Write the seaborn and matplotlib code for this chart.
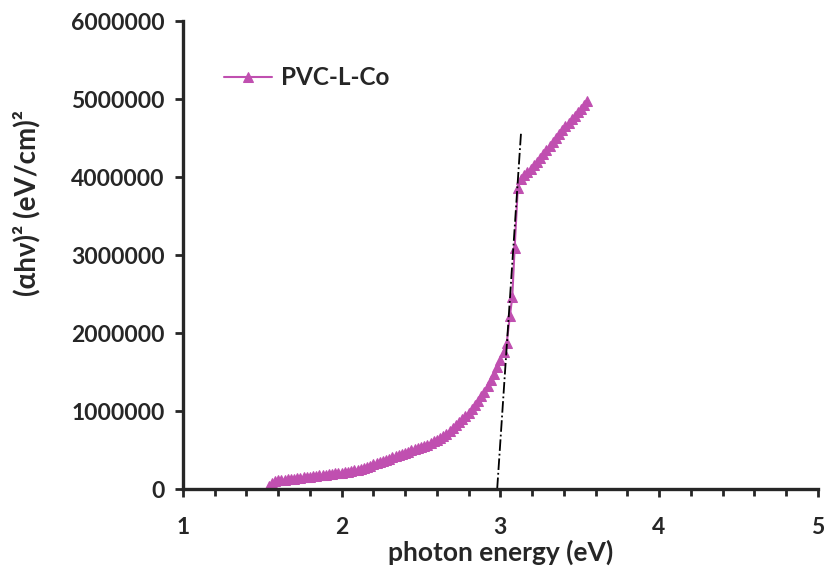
import numpy as np
import matplotlib
matplotlib.use("Agg")
import matplotlib.pyplot as plt
import seaborn as sns
from matplotlib.ticker import MultipleLocator, FuncFormatter

sns.set_style("ticks")
plt.rcParams["font.family"] = ["Lato", "DejaVu Sans"]
plt.rcParams["font.weight"] = "bold"

# photon energy (eV) and (alpha h nu)^2 values
energy = [
    1.54, 1.56, 1.58, 1.60, 1.62, 1.64, 1.66, 1.68, 1.70, 1.72, 1.74, 1.76, 1.78,
    1.80, 1.82, 1.84, 1.86, 1.88, 1.90, 1.92, 1.94, 1.96, 1.98, 2.00, 2.02, 2.04,
    2.06, 2.08, 2.10, 2.12, 2.14, 2.16, 2.18, 2.20, 2.22, 2.24, 2.26, 2.28, 2.30,
    2.32, 2.34, 2.36, 2.38, 2.40, 2.42, 2.44, 2.46, 2.48, 2.50, 2.52, 2.54, 2.56,
    2.58, 2.60, 2.62, 2.64, 2.66, 2.68, 2.70, 2.72, 2.74, 2.76, 2.78, 2.80, 2.82,
    2.84, 2.86, 2.88, 2.90, 2.92, 2.94, 2.96, 2.98, 3.00, 3.02, 3.04, 3.06, 3.075,
    3.09, 3.11, 3.13, 3.15, 3.17, 3.19, 3.21, 3.23, 3.25, 3.27, 3.29, 3.31, 3.33,
    3.35, 3.37, 3.39, 3.41, 3.43, 3.45, 3.47, 3.49, 3.51, 3.53, 3.545,
]
absorb = [
    0.04, 0.08, 0.10, 0.11, 0.115, 0.12, 0.125, 0.13, 0.135, 0.14, 0.145, 0.15, 0.155,
    0.16, 0.165, 0.17, 0.175, 0.18, 0.185, 0.19, 0.195, 0.20, 0.205, 0.21, 0.215, 0.22,
    0.23, 0.24, 0.25, 0.26, 0.27, 0.285, 0.30, 0.315, 0.33, 0.345, 0.36, 0.375, 0.39,
    0.405, 0.42, 0.435, 0.45, 0.465, 0.48, 0.495, 0.51, 0.525, 0.54, 0.555, 0.57, 0.59,
    0.61, 0.63, 0.655, 0.68, 0.71, 0.745, 0.78, 0.82, 0.86, 0.90, 0.94, 0.98, 1.03,
    1.08, 1.13, 1.19, 1.25, 1.32, 1.40, 1.48, 1.57, 1.66, 1.76, 1.87, 2.22, 2.46,
    3.09, 3.86, 3.98, 4.03, 4.07, 4.11, 4.16, 4.20, 4.25, 4.30, 4.35, 4.40, 4.45,
    4.50, 4.55, 4.60, 4.65, 4.69, 4.74, 4.79, 4.84, 4.88, 4.93, 4.97,
]
absorb = [v * 1e6 for v in absorb]

# linear fit (band gap extrapolation)
tangent_x = [2.98, 3.13]
tangent_y = [0.0, 4.56e6]

series_name = "PVC-L-Co"
purple = "#C04FB0"

fig, ax = plt.subplots(figsize=(8.26, 5.72), dpi=100)
fig.subplots_adjust(left=0.2215, right=0.990, bottom=0.145, top=0.963)

sns.lineplot(x=energy, y=absorb, ax=ax, color=purple, marker="^", markersize=7,
             markeredgecolor=purple, linewidth=1.5, sort=False, estimator=None,
             label=series_name)
ax.plot(tangent_x, tangent_y, color="black", linestyle="-.", linewidth=1.3)

ax.set_xlim(1, 5)
ax.set_ylim(0, 6000000)
ax.xaxis.set_major_locator(MultipleLocator(1))
ax.xaxis.set_minor_locator(MultipleLocator(0.2))
ax.yaxis.set_major_locator(MultipleLocator(1000000))
ax.yaxis.set_major_formatter(FuncFormatter(lambda v, p: f"{int(v)}"))

sns.despine(ax=ax)
for s in ["left", "bottom"]:
    ax.spines[s].set_linewidth(2.4)
ax.tick_params(axis="both", which="major", direction="out", length=6, width=2,
               labelsize=16.5)
ax.tick_params(axis="y", which="major", pad=7)
ax.tick_params(axis="x", which="major", pad=14)
ax.tick_params(axis="x", which="minor", direction="out", length=5, width=2)
for lab in ax.get_xticklabels() + ax.get_yticklabels():
    lab.set_fontweight("bold")

ax.set_xlabel("photon energy (eV)", fontsize=19, fontweight="bold", labelpad=1)
ax.set_ylabel("(\u03b1h\u03bd)\u00b2 (eV/cm)\u00b2", fontsize=20, fontweight="bold")
ax.yaxis.set_label_coords(-0.224, 0.612)

leg = ax.legend(loc="upper left", bbox_to_anchor=(0.03, 0.95), frameon=False,
                handlelength=2.0, handletextpad=0.35,
                prop={"weight": "bold", "size": 17.5})

plt.savefig("out.png", dpi=100)
